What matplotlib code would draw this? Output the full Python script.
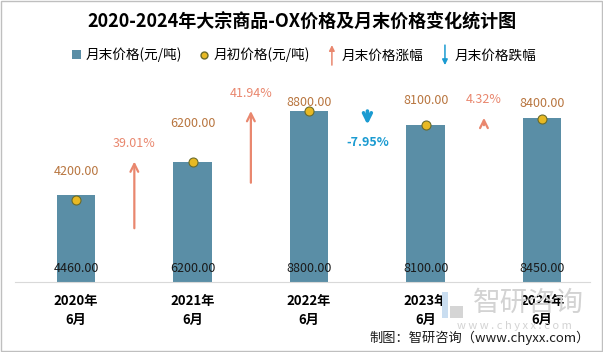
import matplotlib.pyplot as plt
from matplotlib.lines import Line2D
from matplotlib.patches import Patch, Rectangle, FancyArrowPatch
from matplotlib.legend_handler import HandlerPatch

plt.rcParams['font.family'] = ['Noto Sans CJK SC', 'DejaVu Sans']

# data
periods = ['2020年\n6月', '2021年\n6月', '2022年\n6月', '2023年\n6月', '2024年\n6月']
end_price = [4460, 6200, 8800, 8100, 8450]      # 月末价格(元/吨)
start_price = [4200, 6200, 8800, 8100, 8400]    # 月初价格(元/吨)
change_pct = [39.01, 41.94, -7.95, 4.32]        # 月末价格涨跌幅(%)

# style
bar_color = '#5A8EA6'
dot_face = '#E8B923'
dot_edge = '#6B6B2A'
label_color = '#B8753F'
up_color = '#E9876E'
down_color = '#1B9BD1'
label_offsets = [29, 38, 9, 24, 15]  # pixels above the dots


class HandlerArrow(HandlerPatch):
    def __init__(self, up):
        super().__init__()
        self.up = up

    def create_artists(self, legend, orig_handle, xdescent, ydescent, width, height, fontsize, trans):
        cx = -xdescent + width / 2
        lo, hi = -ydescent - height * 0.6, -ydescent + height * 1.5
        a, b = ((cx, lo), (cx, hi)) if self.up else ((cx, hi), (cx, lo))
        p = FancyArrowPatch(a, b, arrowstyle='-|>', mutation_scale=8, lw=1.1,
                            color=orig_handle.get_edgecolor(), shrinkA=0, shrinkB=0)
        p.set_transform(trans)
        return [p]


fig = plt.figure(figsize=(6.03, 3.52), dpi=100)
ax = fig.add_axes([15 / 603, 70 / 352, 575 / 603, 242 / 352])

x = list(range(len(periods)))
ax.bar(x, end_price, width=0.33, color=bar_color, zorder=2)
ax.scatter(x, start_price, s=42, color=dot_face, edgecolor=dot_edge, linewidth=0.8, zorder=3)

for i, (e, s) in enumerate(zip(end_price, start_price)):
    ax.annotate(f'{e:.2f}', (i, 0), xytext=(0, 14), textcoords='offset pixels',
                ha='center', va='center', fontsize=9, color='#1A1A1A', zorder=4)
    ax.annotate(f'{s:.2f}', (i, s), xytext=(0, label_offsets[i]), textcoords='offset pixels',
                ha='center', va='center', fontsize=9, color=label_color, zorder=4)

# change arrows: tip at next month-end price, length proportional to change
unit = max(end_price) / 100
for i, p in enumerate(change_pct):
    tip = end_price[i + 1]
    tail = tip - p * unit
    col = up_color if p >= 0 else down_color
    lw = 1.6 if p >= 0 else 2.6
    ax.annotate('', xy=(i + 0.5, tip), xytext=(i + 0.5, tail),
                arrowprops=dict(arrowstyle='->', color=col, lw=lw, mutation_scale=14,
                                shrinkA=0, shrinkB=0))
    sign = 1 if p >= 0 else -1
    ax.annotate(f'{p:.2f}%', (i + 0.5, tip), xytext=(0, 18 * sign),
                textcoords='offset pixels', ha='center', va='center', fontsize=9,
                color=col, fontweight='normal' if p >= 0 else 'bold')

ax.set_xlim(-0.524, 4.41)
ax.set_ylim(0, 12455)
ax.set_xticks(x)
ax.set_xticklabels(periods, fontsize=9.5, fontweight='bold', linespacing=1.4)
ax.tick_params(axis='x', length=0, pad=9)
ax.set_yticks([])
for side in ['top', 'right', 'left']:
    ax.spines[side].set_visible(False)
ax.spines['bottom'].set_color('#D9D9D9')

fig.text(0.5, 0.9375, '2020-2024年大宗商品-OX价格及月末价格变化统计图',
         ha='center', va='center', fontsize=13, fontweight='bold')

up_handle = FancyArrowPatch((0, 0), (0, 1), color=up_color)
down_handle = FancyArrowPatch((0, 1), (0, 0), color=down_color)
handles = [
    Patch(facecolor=bar_color, edgecolor='none'),
    Line2D([], [], marker='o', linestyle='none', markersize=5, markerfacecolor=dot_face,
           markeredgecolor=dot_edge),
    up_handle,
    down_handle,
]
names = ['月末价格(元/吨)', '月初价格(元/吨)', '月末价格涨幅', '月末价格跌幅']
fig.legend(handles, names, loc='center', bbox_to_anchor=(304 / 603, 1 - 55 / 352), ncol=4,
           frameon=False, fontsize=9.8, handlelength=0.7, handleheight=0.7, handletextpad=0.35,
           columnspacing=1.25,
           handler_map={up_handle: HandlerArrow(True), down_handle: HandlerArrow(False)})

# watermark
fig.patches.append(Rectangle((442 / 603, 1 - 318 / 352), 6 / 603, 26 / 352, transform=fig.transFigure,
                             facecolor='#C9DDF0', edgecolor='none'))
fig.patches.append(Rectangle((450 / 603, 1 - 318 / 352), 13 / 603, 12 / 352, transform=fig.transFigure,
                             facecolor='#D5D5D5', edgecolor='none'))
fig.text(528 / 603, 1 - 303 / 352, '智研咨询', ha='center', va='center', fontsize=20,
         color='#D3D3D3', zorder=0)
fig.text(514 / 603, 1 - 326 / 352, 'w w w . c h y x x . c o m', ha='center', va='center',
         fontsize=8, color='#D3D3D3', zorder=0)

fig.text(590 / 603, 1 - 338 / 352, '制图：智研咨询（www.chyxx.com）', ha='right', va='center',
         fontsize=9.5, color='#1A1A1A')

fig.patches.append(Rectangle((0.001, 0.002), 0.997, 0.995, transform=fig.transFigure,
                             facecolor='none', edgecolor='#BFBFBF', linewidth=1))

fig.savefig('out.png', dpi=100)
